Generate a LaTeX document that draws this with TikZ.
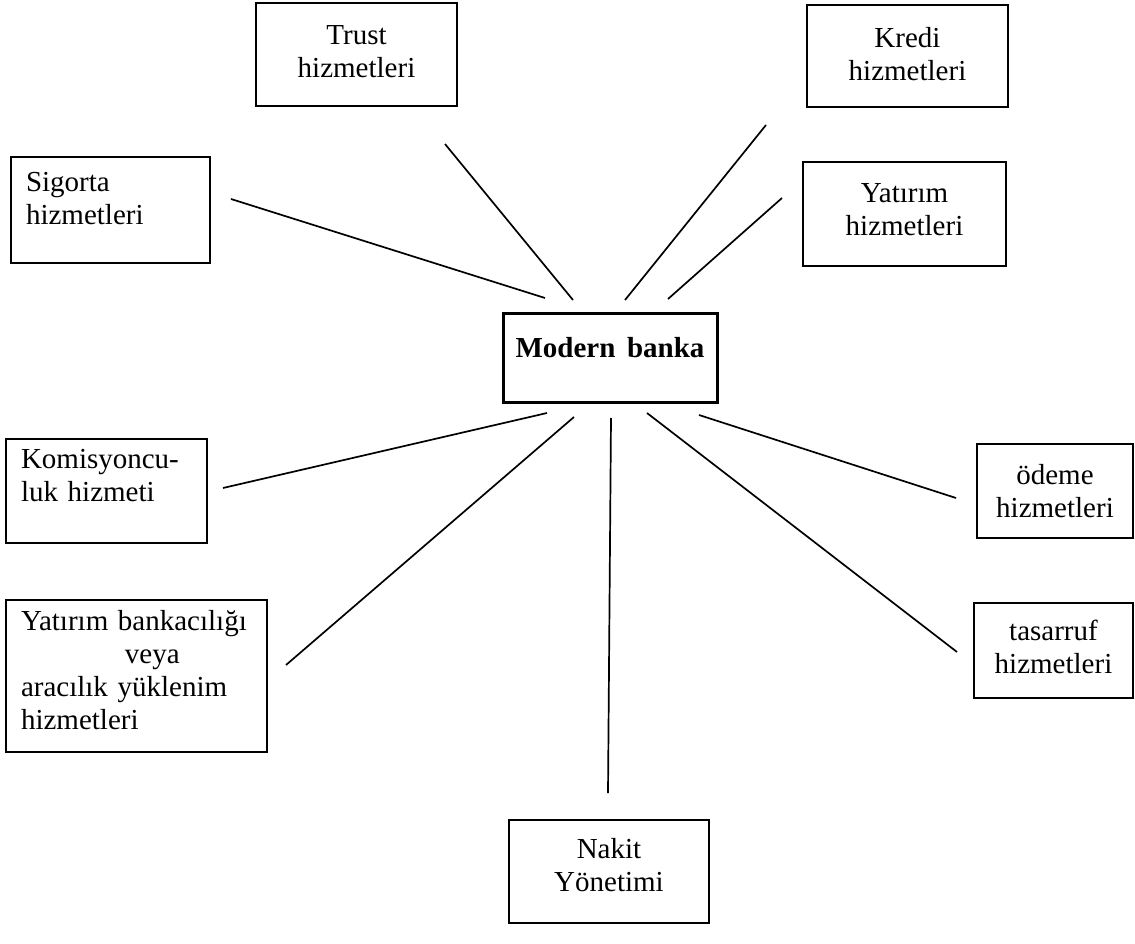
\documentclass[tikz,border=0pt]{standalone}
\usepackage{fontspec}
\setmainfont{Liberation Serif}
\newcommand\boxfont{\fontsize{29}{33}\selectfont\spaceskip=0.4em\relax\hyphenpenalty=10000\relax}
\newcommand\dn[1]{\rule[-#1pt]{0pt}{#1pt}}
\tikzset{
  box/.style={draw, line width=1.8pt, inner sep=0pt, align=center, font=\boxfont},
  lbox/.style={box, align=left, inner xsep=15pt, text width=#1},
  link/.style={line width=1.7pt}
}
\begin{document}
\begin{tikzpicture}[x=1pt,y=-1pt]
\useasboundingbox (0,0) rectangle (1135,944);

% the bank in the middle
\node[box,line width=3pt,minimum width=214pt,minimum height=89pt,font=\boxfont\bfseries] (banka) at (610,357.5) {Modern banka\dn{21}};

% services above
\node[box,minimum width=201pt,minimum height=103pt] (trust) at (356.5,54.5) {Trust\\hizmetleri\dn{6}};
\node[box,minimum width=201pt,minimum height=102pt] (kredi) at (907.5,56) {Kredi\\hizmetleri\dn{5}};
\node[lbox=169pt,minimum height=106pt] (sigorta) at (110.5,210) {Sigorta\\hizmetleri\dn{23}};
\node[box,minimum width=203pt,minimum height=104pt] (yatirim) at (904.5,214) {Yatırım\\hizmetleri\dn{9}};

% services below
\node[lbox=171pt,minimum height=104pt] (komisyon) at (106.5,491) {Komisyoncu-\\luk~hizmeti\dn{31}};
\node[lbox=231pt,minimum height=152pt] (yatbank) at (136.5,676) {Yatırım~bankacılığı\\\hspace*{104pt}veya\\aracılık~yüklenim\\hizmetleri\dn{13}};
\node[box,minimum width=156pt,minimum height=94pt] (odeme) at (1055,491) {ödeme\\hizmetleri};
\node[box,minimum width=159pt,minimum height=95pt] (tasarruf) at (1053.5,650.5) {tasarruf\\hizmetleri\dn{8}};
\node[box,minimum width=200pt,minimum height=103pt] (nakit) at (609,871.5) {Nakit\\Yönetimi\dn{14}};

% free line ends
\coordinate (sigorta-e) at (231,199);   \coordinate (sigorta-b) at (545,298);
\coordinate (trust-e) at (445,144);     \coordinate (trust-b) at (573,300);
\coordinate (kredi-e) at (766,125);     \coordinate (kredi-b) at (625,300);
\coordinate (yatirim-e) at (782,198);   \coordinate (yatirim-b) at (668,299);
\coordinate (komisyon-e) at (223,488);  \coordinate (komisyon-b) at (547,413);
\coordinate (yatbank-e) at (286,665);   \coordinate (yatbank-b) at (574,417);
\coordinate (nakit-e) at (608,793);     \coordinate (nakit-b) at (611,418);
\coordinate (tasarruf-e) at (957,652);  \coordinate (tasarruf-b) at (647,413);
\coordinate (odeme-e) at (956,498);     \coordinate (odeme-b) at (699,415);

\foreach \s in {sigorta,trust,kredi,yatirim,komisyon,yatbank,nakit,tasarruf,odeme}
  \draw[link] (\s-e) -- (\s-b);
\end{tikzpicture}
\end{document}
